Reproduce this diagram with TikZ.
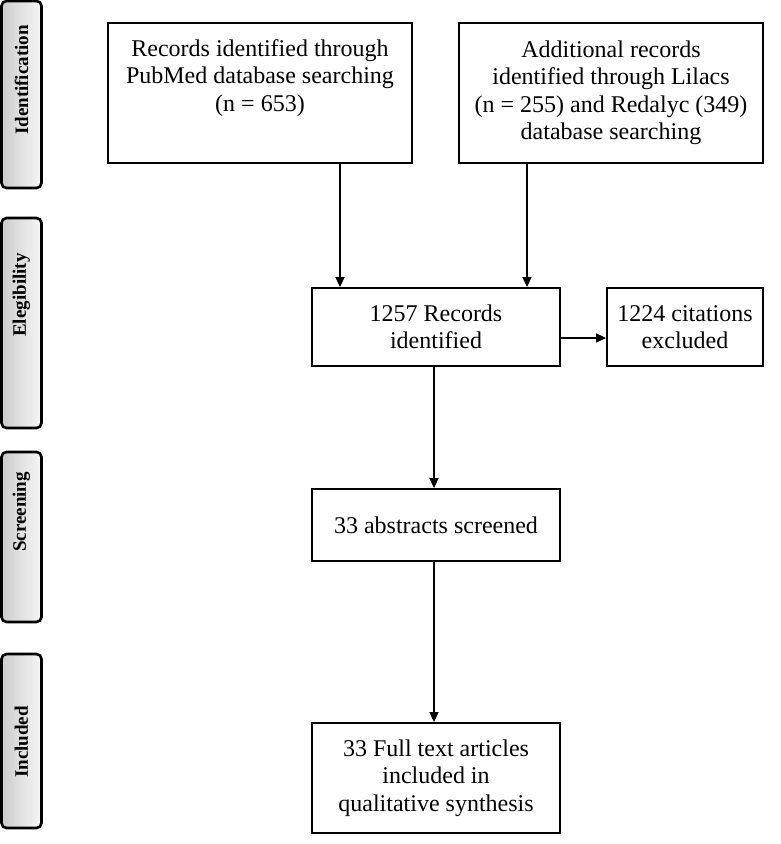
\documentclass[tikz,border=0pt]{standalone}
\usepackage{fontspec}
\setmainfont{Liberation Serif}
\usetikzlibrary{arrows.meta}
\tikzset{
  box/.style={draw=black, line width=1.8pt, align=center, inner sep=0pt,
    font=\fontsize{24}{27.5}\selectfont},
  bar/.style={draw=black, line width=2.6pt, rounded corners=5pt,
    left color=gray!40, right color=gray!6, minimum width=40pt},
  barlabel/.style={rotate=90, font=\fontsize{19}{22}\selectfont\bfseries},
  conn/.style={line width=1.5pt, -{Triangle[length=10pt,width=9pt]}}
}
\begin{document}
\begin{tikzpicture}[x=1pt,y=-1pt]
\useasboundingbox (0,0) rectangle (781,844);
% side bars
\node[bar, minimum height=187pt] (b1) at (21.5,94.5) {};
\node[bar, minimum height=210pt] (b2) at (21.5,323) {};
\node[bar, minimum height=170pt] (b3) at (21.5,537) {};
\node[bar, minimum height=174pt] (b4) at (21.5,741) {};
\node[barlabel] (l1) at (21.5,80) {Identification};
\node[barlabel] (l2) at (21.5,295) {Elegibility};
\node[barlabel] (l3) at (21.5,512) {Screening};
\node[barlabel] (l4) at (21.5,742) {Included};
% boxes
\node[box, minimum width=304pt, minimum height=140pt] (pub) at (260,93)
  {Records identified through\\PubMed database searching\\(n = 653)\\\strut};
\node[box, minimum width=304pt, minimum height=140pt] (add) at (611,93)
  {Additional records\\identified through Lilacs\\(n = 255) and Redalyc (349)\\database searching};
\node[box, minimum width=248pt, minimum height=78pt] (rec) at (436,327)
  {1257 Records\\identified};
\node[box, minimum width=156pt, minimum height=78pt] (exc) at (685,327)
  {1224 citations\\excluded};
\node[box, minimum width=248pt, minimum height=72pt] (abs) at (436,525)
  {33 abstracts screened};
\node[box, minimum width=248pt, minimum height=110pt] (full) at (436,778)
  {33 Full text articles\\included in\\qualitative synthesis};
% connectors
\draw[conn] ([xshift=80pt]pub.south) -- ([xshift=-96pt]rec.north);
\draw[conn] ([xshift=-84pt]add.south) -- ([xshift=91pt]rec.north);
\draw[conn] ([yshift=-11pt]rec.east) -- ([yshift=-11pt]exc.west);
\draw[conn] ([xshift=-2pt]rec.south) -- ([xshift=-2pt]abs.north);
\draw[conn] ([xshift=-2pt]abs.south) -- ([xshift=-2pt]full.north);
\end{tikzpicture}
\end{document}
